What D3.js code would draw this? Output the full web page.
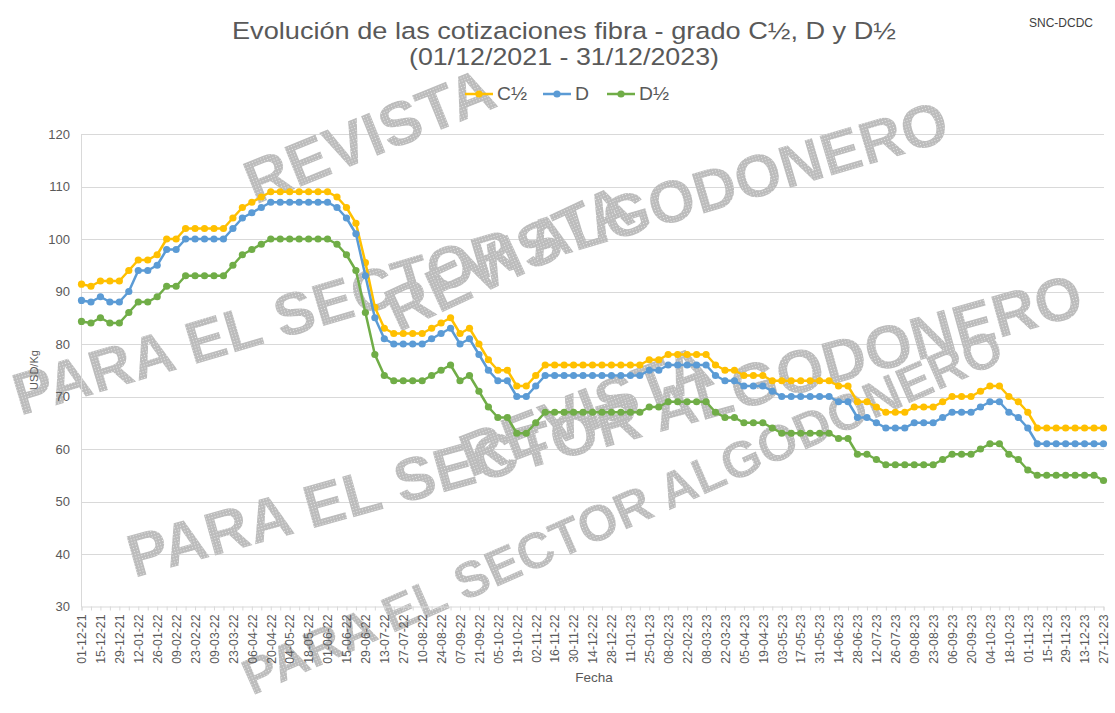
<!DOCTYPE html>
<html>
<head>
<meta charset="utf-8">
<script src="https://cdn.jsdelivr.net/npm/d3@7"></script>
<style>
  html, body { margin: 0; padding: 0; background: #ffffff; }
  svg { display: block; }
  text { font-family: "Liberation Sans", Arial, sans-serif; }
</style>
</head>
<body>
<svg id="chart" width="1115" height="713"></svg>
<script>
// ---------- DATA ----------
const dates = [
  "01-12-21","08-12-21","15-12-21","22-12-21","29-12-21",
  "05-01-22","12-01-22","19-01-22","26-01-22","02-02-22","09-02-22","16-02-22","23-02-22",
  "02-03-22","09-03-22","16-03-22","23-03-22","30-03-22","06-04-22","13-04-22","20-04-22","27-04-22",
  "04-05-22","11-05-22","18-05-22","25-05-22","01-06-22","08-06-22","15-06-22","22-06-22","29-06-22",
  "06-07-22","13-07-22","20-07-22","27-07-22","03-08-22","10-08-22","17-08-22","24-08-22","31-08-22",
  "07-09-22","14-09-22","21-09-22","28-09-22","05-10-22","12-10-22","19-10-22","26-10-22",
  "02-11-22","09-11-22","16-11-22","23-11-22","30-11-22","07-12-22","14-12-22","21-12-22","28-12-22",
  "04-01-23","11-01-23","18-01-23","25-01-23","01-02-23","08-02-23","15-02-23","22-02-23",
  "01-03-23","08-03-23","15-03-23","22-03-23","29-03-23","05-04-23","12-04-23","19-04-23","26-04-23",
  "03-05-23","10-05-23","17-05-23","24-05-23","31-05-23","07-06-23","14-06-23","21-06-23","28-06-23",
  "05-07-23","12-07-23","19-07-23","26-07-23","02-08-23","09-08-23","16-08-23","23-08-23","30-08-23",
  "06-09-23","13-09-23","20-09-23","27-09-23","04-10-23","11-10-23","18-10-23","25-10-23",
  "01-11-23","08-11-23","15-11-23","22-11-23","29-11-23","06-12-23","13-12-23","20-12-23","27-12-23"
];

const gradoC12 = [
  91.4,91,92,92,92,94,96,96,97,100,100,102,102,102,102,102,104,106,107,108,109,109,
  109,109,109,109,109,108,106,103,95.5,87,83,82,82,82,82,83,84,85,82,83,80,77,75,75,72,72,74,76,
  76,76,76,76,76,76,76,76,76,76,77,77,78,78,78,78,78,76,75,75,74,74,74,73,73,73,73,73,73,73,
  72,72,69,69,68,67,67,67,68,68,68,69,70,70,70,71,72,72,70,69,67,64,64,64,64,64,64,64,64
];

const gradoD = [
  88.3,88,89,88,88,90,94,94,95,98,98,100,100,100,100,100,102,104,105,106,107,107,
  107,107,107,107,107,106,104,101,93,85,81,80,80,80,80,81,82,83,80,81,78,75,73,73,70,70,72,74,
  74,74,74,74,74,74,74,74,74,74,75,75,76,76,76,76,76,74,73,73,72,72,72,71,70,70,70,70,70,70,
  69,69,66,66,65,64,64,64,65,65,65,66,67,67,67,68,69,69,67,66,64,61,61,61,61,61,61,61,61
];

const gradoD12 = [
  84.3,84,85,84,84,86,88,88,89,91,91,93,93,93,93,93,95,97,98,99,100,100,
  100,100,100,100,100,99,97,94,86,78,74,73,73,73,73,74,75,76,73,74,71,68,66,66,63,63,65,67,
  67,67,67,67,67,67,67,67,67,67,68,68,69,69,69,69,69,67,66,66,65,65,65,64,63,63,63,63,63,63,
  62,62,59,59,58,57,57,57,57,57,57,58,59,59,59,60,61,61,59,58,56,55,55,55,55,55,55,55,54
];

const seriesNames = ["C½", "D", "D½"];
const seriesColors = ["#FFC000", "#5B9BD5", "#70AD47"];
const yTickValues = [30, 40, 50, 60, 70, 80, 90, 100, 110, 120];

const titleLines = ["Evolución de las cotizaciones fibra - grado C½, D y D½", "(01/12/2021  - 31/12/2023)"];
const sourceLabel = "SNC-DCDC";
const yAxisTitle = "USD/Kg";
const xAxisTitle = "Fecha";
const watermarkWords = ["REVISTA", "PARA EL SECTOR ALGODONERO"];

// ---------- CHART ----------
const svg = d3.select("#chart");
const grey = "#595959";
const gridColor = "#d9d9d9";

const x = d3.scalePoint().domain(dates).range([81.5, 1103.5]);
const y = d3.scaleLinear().domain([30, 120]).range([606.5, 134]);

// watermark pattern
const defs = svg.append("defs");
const pat = defs.append("pattern").attr("id", "dots").attr("width", 3).attr("height", 3)
  .attr("patternUnits", "userSpaceOnUse");
pat.append("rect").attr("width", 3).attr("height", 3).attr("fill", "#bcbcbc");
pat.append("rect").attr("x", 1).attr("y", 1).attr("width", 1).attr("height", 1).attr("fill", "#e8e8e8");

// gridlines
svg.append("g").selectAll("line").data(yTickValues.filter(v => v !== 30)).join("line")
  .attr("x1", 81).attr("x2", 1104)
  .attr("y1", d => Math.round(y(d)) + 0.5).attr("y2", d => Math.round(y(d)) + 0.5)
  .attr("stroke", gridColor).attr("stroke-width", 1);

// watermark (3 stamps)
const stamps = [
  { t: 0, x: 255, y: 205, a: -22, fs: 62 },
  { t: 1, x: 20,  y: 416, a: -16.5, fs: 60 },
  { t: 0, x: 398, y: 333, a: -25, fs: 62 },
  { t: 1, x: 134, y: 578, a: -15.5, fs: 61 },
  { t: 0, x: 470, y: 478, a: -21, fs: 62 },
  { t: 1, x: 252, y: 696, a: -24, fs: 51 }
];
svg.append("g").selectAll("text").data(stamps).join("text")
  .attr("transform", d => `translate(${d.x},${d.y}) rotate(${d.a})`)
  .attr("font-size", d => d.fs).attr("font-weight", "bold")
  .attr("fill", "url(#dots)")
  .text(d => watermarkWords[d.t]);

// y axis
const yAxis = d3.axisLeft(y).tickValues(yTickValues).tickSize(0).tickPadding(11);
const gy = svg.append("g").attr("transform", "translate(81,0)").call(yAxis);
gy.select(".domain").attr("stroke", gridColor);
gy.selectAll("text").attr("fill", grey).attr("font-size", 13)
  .attr("font-family", "Liberation Sans, Arial, sans-serif");

// x axis
const xAxis = d3.axisBottom(x).tickValues(dates).tickSize(4)
  .tickFormat((d, i) => i % 2 === 0 ? d : "");
const gx = svg.append("g").attr("transform", `translate(0,${y(30)})`).call(xAxis);
gx.select(".domain").attr("stroke", gridColor);
gx.selectAll(".tick line").attr("stroke", gridColor);
gx.selectAll("text").attr("fill", grey).attr("font-size", 12.3)
  .attr("font-family", "Liberation Sans, Arial, sans-serif")
  .attr("transform", "rotate(-90)")
  .attr("text-anchor", "end")
  .attr("x", -8).attr("y", 0).attr("dy", "0.35em");

// series
const allSeries = [gradoC12, gradoD, gradoD12];
const line = d3.line().x((d, i) => x(dates[i])).y(d => y(d));
allSeries.forEach((vals, si) => {
  const g = svg.append("g");
  g.append("path").datum(vals).attr("d", line)
    .attr("fill", "none").attr("stroke", seriesColors[si])
    .attr("stroke-width", 2.5).attr("stroke-linejoin", "round");
  g.selectAll("circle").data(vals).join("circle")
    .attr("cx", (d, i) => x(dates[i])).attr("cy", d => y(d))
    .attr("r", 3.6).attr("fill", seriesColors[si]);
});

// titles (reference font is horizontally wider -> fit measured widths)
svg.append("text").attr("x", 564).attr("y", 39).attr("text-anchor", "middle")
  .attr("font-size", 24.5).attr("fill", grey)
  .attr("textLength", 664).attr("lengthAdjust", "spacingAndGlyphs").text(titleLines[0]);
svg.append("text").attr("x", 564).attr("y", 65).attr("text-anchor", "middle")
  .attr("font-size", 24.5).attr("fill", grey)
  .attr("textLength", 310).attr("lengthAdjust", "spacingAndGlyphs").text(titleLines[1]);
svg.append("text").attr("x", 1029).attr("y", 27)
  .attr("font-size", 12).attr("fill", "#404040").text(sourceLabel);

// legend
const legendX = [465, 543, 607];
const legendW = [30, 14, 30];
const lg = svg.append("g");
seriesNames.forEach((n, i) => {
  const lx = legendX[i];
  lg.append("line").attr("x1", lx).attr("x2", lx + 28).attr("y1", 94).attr("y2", 94)
    .attr("stroke", seriesColors[i]).attr("stroke-width", 2.5);
  lg.append("circle").attr("cx", lx + 14).attr("cy", 94).attr("r", 3.6).attr("fill", seriesColors[i]);
  lg.append("text").attr("x", lx + 32).attr("y", 100).attr("font-size", 18)
    .attr("textLength", legendW[i]).attr("lengthAdjust", "spacingAndGlyphs")
    .attr("fill", grey).text(n);
});

// axis titles
svg.append("text").attr("transform", "translate(38,370) rotate(-90)")
  .attr("text-anchor", "middle").attr("font-size", 11).attr("fill", grey).text(yAxisTitle);
svg.append("text").attr("x", 594).attr("y", 682).attr("text-anchor", "middle")
  .attr("font-size", 13.5).attr("fill", grey).text(xAxisTitle);
</script>
</body>
</html>
